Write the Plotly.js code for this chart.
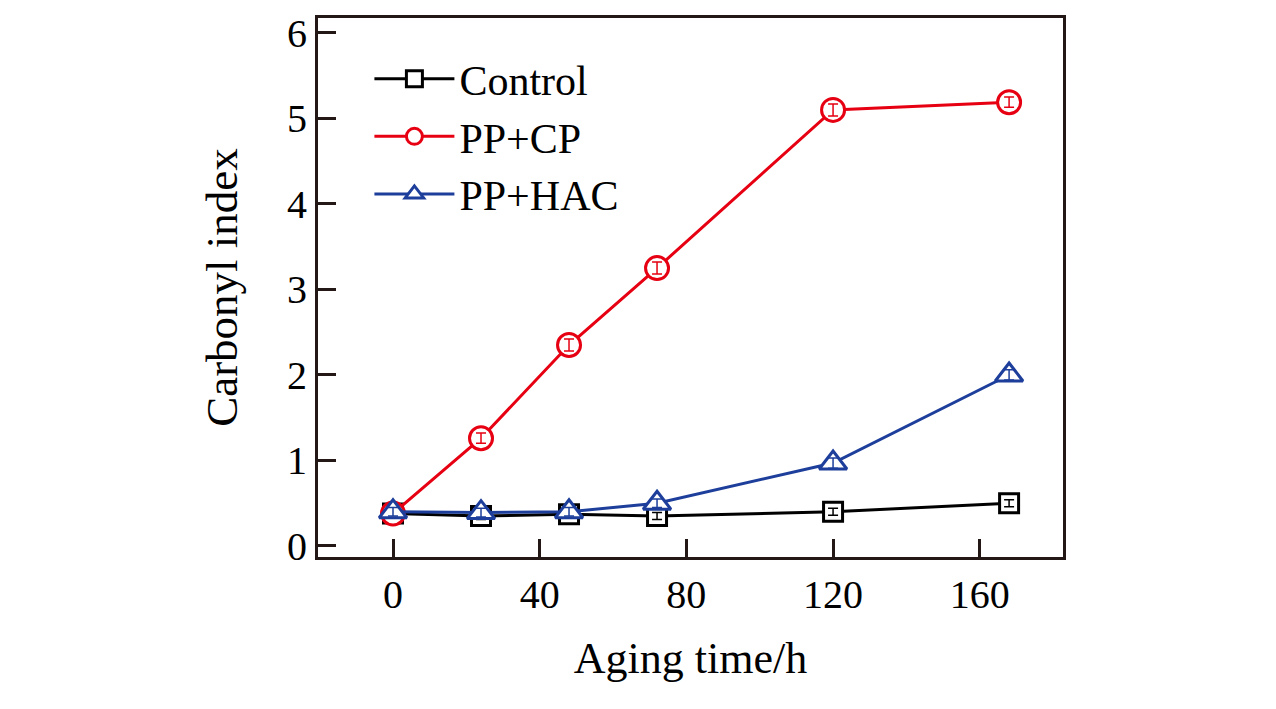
<!DOCTYPE html>
<html>
<head>
<meta charset="utf-8">
<script src="https://cdn.plot.ly/plotly-3.0.1.min.js"></script>
<style>html,body{margin:0;padding:0;background:#fff;}#chart{width:1276px;height:709px;}</style>
</head>
<body>
<div id="chart"></div>
<script>
const agingTime = [0, 24, 48, 72, 120, 168];
const controlValues = [0.38, 0.35, 0.37, 0.35, 0.40, 0.50];
const controlErr = [0.04, 0.04, 0.04, 0.04, 0.04, 0.04];
const cpValues = [0.38, 1.26, 2.35, 3.25, 5.10, 5.19];
const cpErr = [0.05, 0.06, 0.07, 0.07, 0.07, 0.06];
const hacValues = [0.40, 0.39, 0.40, 0.50, 0.97, 2.00];
const hacErr = [0.05, 0.05, 0.05, 0.05, 0.06, 0.06];
const xTicks = [0, 40, 80, 120, 160];
const yTicks = [0, 1, 2, 3, 4, 5, 6];

const FONT = "Liberation Serif, Times New Roman, serif";
const AX = "#231815";

function series(name, y, err, color, symbol, size) {
  return [
    {
      x: agingTime, y: y, name: name, type: 'scatter', mode: 'lines+markers',
      line: {color: color, width: 3},
      marker: {symbol: symbol, size: size, color: '#ffffff', line: {color: color, width: 3}}
    },
    {
      x: agingTime, y: y, type: 'scatter', mode: 'markers', showlegend: false, hoverinfo: 'skip',
      marker: {size: 0.1, color: 'rgba(0,0,0,0)'},
      error_y: {type: 'data', array: err, visible: true, color: color, thickness: 1.5, width: 5}
    }
  ];
}

const data = [].concat(
  series('Control', controlValues, controlErr, '#000000', 'square', 19),
  series('PP+CP', cpValues, cpErr, '#e60012', 'circle', 23),
  series('PP+HAC', hacValues, hacErr, '#1d3f9b', 'triangle-up', 24)
);

const layout = {
  width: 1276, height: 709,
  paper_bgcolor: '#ffffff', plot_bgcolor: '#ffffff',
  margin: {l: 318, r: 213, t: 18, b: 152},
  font: {family: FONT, size: 40, color: '#000'},
  showlegend: true,
  legend: {x: 0.069, y: 0.95, xanchor: 'left', yanchor: 'top', bgcolor: 'rgba(0,0,0,0)',
           font: {family: FONT, size: 42, color: '#000'}, tracegroupgap: 0, itemwidth: 80},
  xaxis: {
    range: [-20.45, 182.7], tickvals: xTicks, ticktext: xTicks.map(String),
    ticks: 'inside', ticklen: 18, tickwidth: 3, tickcolor: AX,
    showline: true, linecolor: AX, linewidth: 3, mirror: true,
    showgrid: false, zeroline: false,
    tickfont: {family: FONT, size: 40, color: '#000'},
    title: {text: 'Aging time/h', font: {family: FONT, size: 44, color: '#000'}, standoff: 27}
  },
  yaxis: {
    range: [-0.129, 6.175], tickvals: yTicks, ticktext: yTicks.map(String),
    ticks: 'inside', ticklen: 18, tickwidth: 3, tickcolor: AX,
    showline: true, linecolor: AX, linewidth: 3, mirror: true,
    showgrid: false, zeroline: false,
    tickfont: {family: FONT, size: 40, color: '#000'},
    title: {text: 'Carbonyl index', font: {family: FONT, size: 45, color: '#000'}, standoff: 36}
  }
};

Plotly.newPlot('chart', data, layout, {displayModeBar: false, staticPlot: true});
</script>
</body>
</html>
